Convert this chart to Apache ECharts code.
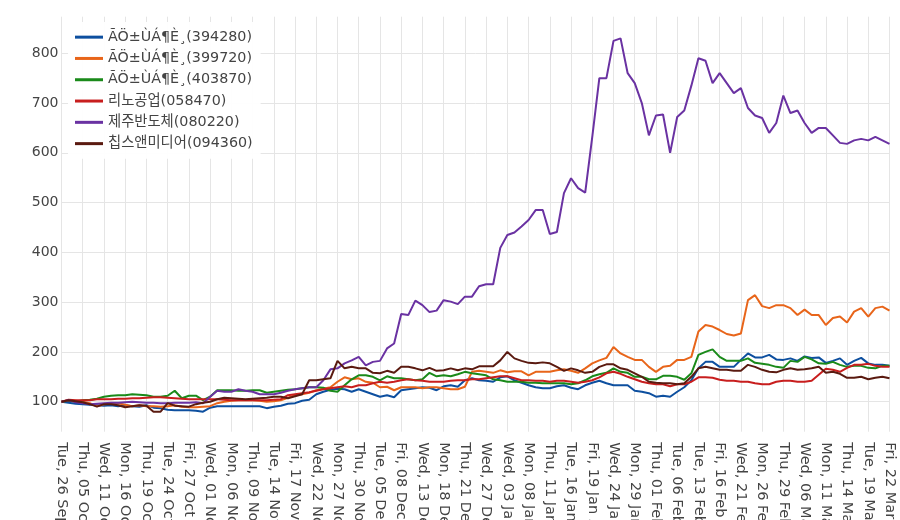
<!DOCTYPE html>
<html>
<head>
<meta charset="utf-8">
<script src="https://cdn.jsdelivr.net/npm/echarts@6/dist/echarts.min.js"></script>
<style>html,body{margin:0;padding:0;background:#fff}#c{width:900px;height:520px}</style>
</head>
<body>
<div id="c"></div>
<script>
var dates = [
"Tue, 26 Sep 2023","Wed, 27 Sep 2023","Wed, 04 Oct 2023","Thu, 05 Oct 2023","Fri, 06 Oct 2023","Tue, 10 Oct 2023","Wed, 11 Oct 2023","Thu, 12 Oct 2023","Fri, 13 Oct 2023","Mon, 16 Oct 2023",
"Tue, 17 Oct 2023","Wed, 18 Oct 2023","Thu, 19 Oct 2023","Fri, 20 Oct 2023","Mon, 23 Oct 2023","Tue, 24 Oct 2023","Wed, 25 Oct 2023","Thu, 26 Oct 2023","Fri, 27 Oct 2023","Mon, 30 Oct 2023",
"Tue, 31 Oct 2023","Wed, 01 Nov 2023","Thu, 02 Nov 2023","Fri, 03 Nov 2023","Mon, 06 Nov 2023","Tue, 07 Nov 2023","Wed, 08 Nov 2023","Thu, 09 Nov 2023","Fri, 10 Nov 2023","Mon, 13 Nov 2023",
"Tue, 14 Nov 2023","Wed, 15 Nov 2023","Thu, 16 Nov 2023","Fri, 17 Nov 2023","Mon, 20 Nov 2023","Tue, 21 Nov 2023","Wed, 22 Nov 2023","Thu, 23 Nov 2023","Fri, 24 Nov 2023","Mon, 27 Nov 2023",
"Tue, 28 Nov 2023","Wed, 29 Nov 2023","Thu, 30 Nov 2023","Fri, 01 Dec 2023","Mon, 04 Dec 2023","Tue, 05 Dec 2023","Wed, 06 Dec 2023","Thu, 07 Dec 2023","Fri, 08 Dec 2023","Mon, 11 Dec 2023",
"Tue, 12 Dec 2023","Wed, 13 Dec 2023","Thu, 14 Dec 2023","Fri, 15 Dec 2023","Mon, 18 Dec 2023","Tue, 19 Dec 2023","Wed, 20 Dec 2023","Thu, 21 Dec 2023","Fri, 22 Dec 2023","Tue, 26 Dec 2023",
"Wed, 27 Dec 2023","Thu, 28 Dec 2023","Tue, 02 Jan 2024","Wed, 03 Jan 2024","Thu, 04 Jan 2024","Fri, 05 Jan 2024","Mon, 08 Jan 2024","Tue, 09 Jan 2024","Wed, 10 Jan 2024","Thu, 11 Jan 2024",
"Fri, 12 Jan 2024","Mon, 15 Jan 2024","Tue, 16 Jan 2024","Wed, 17 Jan 2024","Thu, 18 Jan 2024","Fri, 19 Jan 2024","Mon, 22 Jan 2024","Tue, 23 Jan 2024","Wed, 24 Jan 2024","Thu, 25 Jan 2024",
"Fri, 26 Jan 2024","Mon, 29 Jan 2024","Tue, 30 Jan 2024","Wed, 31 Jan 2024","Thu, 01 Feb 2024","Fri, 02 Feb 2024","Mon, 05 Feb 2024","Tue, 06 Feb 2024","Wed, 07 Feb 2024","Thu, 08 Feb 2024",
"Tue, 13 Feb 2024","Wed, 14 Feb 2024","Thu, 15 Feb 2024","Fri, 16 Feb 2024","Mon, 19 Feb 2024","Tue, 20 Feb 2024","Wed, 21 Feb 2024","Thu, 22 Feb 2024","Fri, 23 Feb 2024","Mon, 26 Feb 2024",
"Tue, 27 Feb 2024","Wed, 28 Feb 2024","Thu, 29 Feb 2024","Mon, 04 Mar 2024","Tue, 05 Mar 2024","Wed, 06 Mar 2024","Thu, 07 Mar 2024","Fri, 08 Mar 2024","Mon, 11 Mar 2024","Tue, 12 Mar 2024",
"Wed, 13 Mar 2024","Thu, 14 Mar 2024","Fri, 15 Mar 2024","Mon, 18 Mar 2024","Tue, 19 Mar 2024","Wed, 20 Mar 2024","Thu, 21 Mar 2024","Fri, 22 Mar 2024"
];

var names = ["ÃÖ±ÙÁ¶È¸(394280)","ÃÖ±ÙÁ¶È¸(399720)","ÃÖ±ÙÁ¶È¸(403870)","리노공업(058470)","제주반도체(080220)","칩스앤미디어(094360)"];
var colors = ["#0d4f9f","#e8651a","#1a8a1a","#c81e1e","#6a32a2","#5a1a10"];

var s394280 = [100,98,96,95,94,93,92,93,91,93, 91,90,93,88,87,84,83,83,83,82, 80,88,91,91,91,91,91,91,91,87, 90,92,96,97,102,104,115,120,124,126, 125,120,125,120,115,110,113,109,123,125, 127,129,128,123,131,133,130,143,147,143, 142,140,149,151,143,138,133,129,127,127, 131,133,128,125,133,138,142,137,133,133, 133,122,120,117,110,112,110,120,129,143, 167,180,180,170,170,170,184,197,189,189, 194,185,184,187,182,191,188,189,178,182, 187,174,182,188,177,174,174,172];
var s399720 = [100,103,102,100,97,91,95,96,97,94, 91,93,91,91,90,91,93,90,89,89, 90,91,97,100,102,103,103,103,102,100, 101,103,108,113,115,118,123,126,129,140, 149,145,147,140,138,129,130,123,129,129, 129,127,129,129,127,125,125,130,160,162, 160,158,163,159,161,161,153,160,160,160, 163,165,162,158,167,177,183,188,210,197, 190,184,184,170,160,170,172,184,184,190, 241,254,251,244,236,233,237,304,314,292, 288,294,294,288,274,285,274,274,254,268, 271,259,281,288,271,288,291,283];
var s403870 = [100,102,100,103,104,106,110,112,113,113, 115,114,113,110,110,112,122,107,112,112, 103,110,123,123,123,122,122,123,123,118, 120,122,124,125,127,129,129,128,122,120, 133,145,153,153,150,143,151,147,147,145, 143,145,158,151,153,151,155,160,157,155, 153,145,143,140,140,140,138,138,137,137, 137,137,135,137,143,151,155,158,167,160, 158,150,150,145,145,152,152,150,144,157, 194,200,205,190,182,182,182,187,178,176, 174,170,168,182,180,190,185,177,176,180, 174,170,172,172,168,167,172,172];
var s058470 = [100,104,103,103,103,105,105,105,106,106, 107,107,108,109,109,108,107,106,105,105, 105,105,105,104,103,103,103,103,103,103, 104,105,113,115,117,119,122,125,127,129, 131,129,133,133,137,140,138,140,143,145, 143,142,140,140,140,142,143,143,145,145, 147,149,151,151,147,143,143,142,142,140, 142,142,140,138,140,143,149,157,160,156, 150,145,140,137,135,135,131,135,135,140, 149,149,148,144,142,142,140,140,137,135, 135,140,142,142,140,140,142,154,166,164, 160,168,174,174,176,172,170,170];
var s080220 = [100,103,99,97,95,96,97,98,98,99, 100,99,98,98,97,97,98,98,98,99, 97,110,122,120,120,125,122,120,115,115, 115,118,122,125,127,129,129,143,165,167, 177,183,190,173,180,182,207,217,276,274, 303,294,280,283,304,301,296,311,311,332, 336,336,409,435,440,452,465,485,485,437, 441,519,549,529,520,632,750,750,825,830, 760,740,700,635,675,677,600,672,685,735, 790,785,740,760,740,720,730,690,675,670, 640,660,715,680,685,660,640,650,650,635, 620,618,625,628,625,632,625,618];
var s094360 = [100,103,101,99,95,90,95,95,93,89, 91,93,92,80,80,97,92,91,90,95, 98,100,105,108,107,106,105,106,107,108, 110,110,107,111,115,143,143,145,147,182, 167,170,167,167,158,157,162,158,170,170, 167,163,168,162,163,167,163,167,165,171, 171,171,183,200,187,182,178,177,179,177, 170,162,167,163,158,160,170,175,175,167, 164,157,150,140,138,137,137,135,137,150, 167,170,167,164,164,162,162,174,170,164, 160,159,164,167,164,165,167,170,158,160, 156,148,148,150,145,148,150,147];

var seriesData = [s394280, s399720, s403870, s058470, s080220, s094360];

var chart = echarts.init(document.getElementById('c'), null, {renderer: 'canvas'});
var FONT = '"DejaVu Sans", "Noto Sans CJK KR", sans-serif';
var series = seriesData.map(function (d, k) {
  return {
    name: names[k], type: 'line', data: d, showSymbol: false, symbol: 'none',
    lineStyle: {width: 2, color: colors[k]}, itemStyle: {color: colors[k]},
    emphasis: {disabled: true}, animation: false
  };
});
chart.setOption({
  animation: false,
  backgroundColor: '#ffffff',
  grid: {left: 61.5, right: 10.5, top: 16.7, bottom: 88.3, containLabel: false, outerBoundsMode: 'none'},
  legend: {
    orient: 'vertical', left: 68, top: 22,
    backgroundColor: 'rgba(255,255,255,0.95)',
    padding: [8, 8, 8, 7],
    itemWidth: 28, itemHeight: 3, itemGap: 7, icon: 'rect',
    textStyle: {fontFamily: FONT, fontSize: 14.3, color: '#444444', lineHeight: 14},
    data: names
  },
  xAxis: {
    type: 'category', data: dates, boundaryGap: false,
    axisLine: {show: false}, axisTick: {show: false},
    axisLabel: {interval: 2, rotate: -90, margin: 10.5, fontFamily: FONT, fontSize: 14.5, color: '#444444', padding: [8, 0, 0, 0]},
    splitLine: {show: true, interval: 2, lineStyle: {color: '#e5e5e5', width: 1}}
  },
  yAxis: {
    type: 'value', min: 39.7, max: 873.5, splitNumber: 8,
    axisLine: {show: false}, axisTick: {show: false},
    axisLabel: {margin: 3, fontFamily: FONT, fontSize: 14, color: '#444444', showMinLabel: false, showMaxLabel: false},
    splitLine: {show: true, showMinLine: false, showMaxLine: false, lineStyle: {color: '#e5e5e5', width: 1}}
  },
  series: series
});
</script>
</body>
</html>
